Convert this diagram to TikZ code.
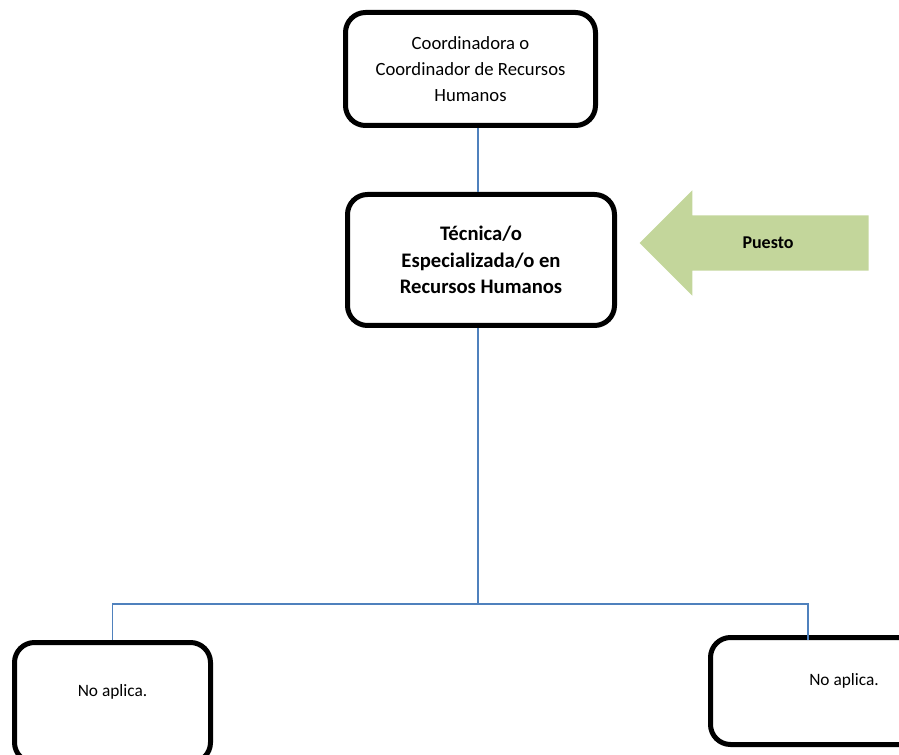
\documentclass[tikz,border=0pt]{standalone}
\usepackage{fontspec}
\setmainfont{Carlito}
\usetikzlibrary{shapes.arrows, positioning}
\definecolor{linkblue}{HTML}{4F81BD}
\definecolor{pointgreen}{HTML}{C3D69B}

\begin{document}
\begin{tikzpicture}[
    x=0.75pt, y=-0.75pt,
    box/.style={rectangle, draw, line width=3.75pt, rounded corners=15pt, align=center, inner sep=2pt},
    leaf/.style={box, font=\fontsize{13}{18}\selectfont},
    link/.style={draw=linkblue, line width=1.2pt},
    pointer/.style={single arrow, fill=pointgreen, shape border rotate=180, single arrow head extend=18.75pt, minimum height=171.75pt, inner xsep=2pt, inner ysep=0pt, text height=20.6pt, text depth=20.6pt, font=\fontsize{13.5}{16}\selectfont\bfseries},
]
\useasboundingbox (0,0) rectangle (899,755);
\clip (0,0) rectangle (899,755);

\node[box, minimum width=187.5pt, minimum height=84.75pt, font=\fontsize{14}{19.5}\selectfont] (coord) at (470.5,69) {Coordinadora o\\Coordinador de Recursos\\Humanos};
\node[box, minimum width=200.25pt, minimum height=98.25pt, font=\fontsize{15.5}{20}\selectfont\bfseries] (post) at (481,260) {Técnica/o\\Especializada/o en\\Recursos Humanos};
\node[pointer] (puesto) at (768,243) {\raisebox{-4.5pt}{Puesto}};

\coordinate (hub) at (478,604);
\coordinate (rdrop) at (808,640);
\node[leaf, minimum width=147pt, minimum height=90pt] (noleft) at (112.5,702.5) {No aplica.\\ \mbox{}};
\node[leaf, minimum width=200.25pt, minimum height=80.25pt] (noright) at (844,691) {No aplica.\\ \mbox{}};

\draw[link] (coord.south -| hub) -- (post.north -| hub);
\draw[link] (post.south -| hub) -- (hub);
\draw[link] (hub) -| (noleft.north);
\draw[link] (hub) -| (rdrop);

\end{tikzpicture}
\end{document}
